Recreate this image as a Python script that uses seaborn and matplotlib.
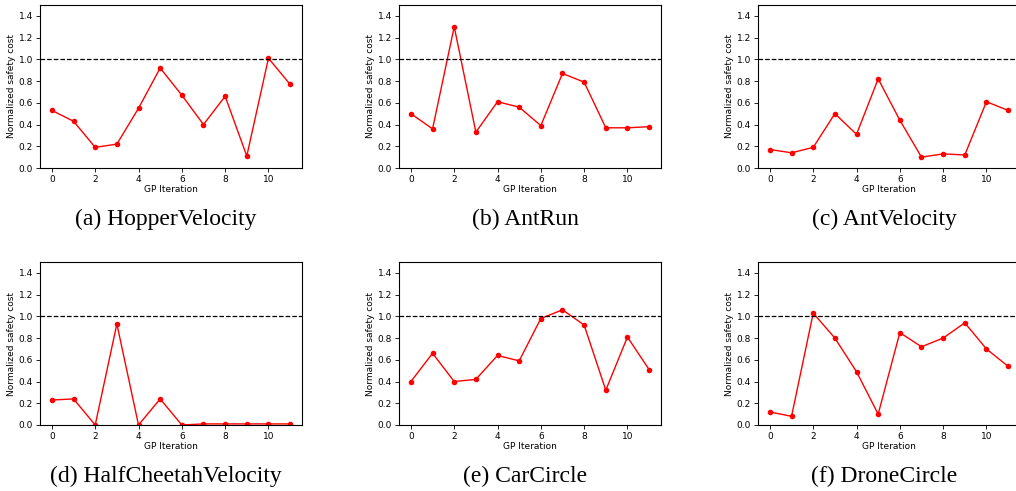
import numpy as np
import pandas as pd
import matplotlib
matplotlib.use("Agg")
import matplotlib.pyplot as plt
import seaborn as sns

iterations = list(range(12))
hopper_velocity = [0.53, 0.43, 0.19, 0.22, 0.55, 0.92, 0.67, 0.40, 0.66, 0.11, 1.01, 0.77]
ant_run = [0.50, 0.36, 1.30, 0.33, 0.61, 0.56, 0.39, 0.87, 0.79, 0.37, 0.37, 0.38]
ant_velocity = [0.17, 0.14, 0.19, 0.50, 0.31, 0.82, 0.44, 0.10, 0.13, 0.12, 0.61, 0.53]
half_cheetah_velocity = [0.23, 0.24, 0.0, 0.93, 0.0, 0.24, 0.0, 0.01, 0.01, 0.01, 0.01, 0.01]
car_circle = [0.40, 0.66, 0.40, 0.42, 0.64, 0.59, 0.98, 1.06, 0.92, 0.32, 0.81, 0.51]
drone_circle = [0.12, 0.08, 1.03, 0.80, 0.49, 0.10, 0.85, 0.72, 0.80, 0.94, 0.70, 0.54]

captions = ["(a) HopperVelocity", "(b) AntRun", "(c) AntVelocity",
            "(d) HalfCheetahVelocity", "(e) CarCircle", "(f) DroneCircle"]
series = [hopper_velocity, ant_run, ant_velocity, half_cheetah_velocity, car_circle, drone_circle]

sns.set_style("ticks")
plt.rcParams['font.family'] = ['DejaVu Sans']
plt.rcParams['text.color'] = 'black'
plt.rcParams['axes.labelcolor'] = 'black'
plt.rcParams['xtick.color'] = 'black'
plt.rcParams['ytick.color'] = 'black'

fig = plt.figure(figsize=(10.16, 4.91), dpi=100)
W, H = 1016, 491
lefts = [40, 399, 758]
tops = [5, 262]
aw, ah = 262, 163
cap_y = [219, 476]

for i, (cap, vals) in enumerate(zip(captions, series)):
    r, c = divmod(i, 3)
    ax = fig.add_axes([lefts[c] / W, 1 - (tops[r] + ah) / H, aw / W, ah / H])
    df = pd.DataFrame({"GP Iteration": iterations, "cost": vals})
    sns.lineplot(data=df, x="GP Iteration", y="cost", ax=ax, color="red",
                 marker="o", markersize=4, markeredgewidth=0, linewidth=1)
    ax.axhline(1.0, color="black", linestyle="--", linewidth=0.9)
    ax.set_ylim(0, 1.5)
    ax.set_xlim(-0.55, 11.55)
    ax.set_xticks([0, 2, 4, 6, 8, 10])
    ax.set_yticks([0.0, 0.2, 0.4, 0.6, 0.8, 1.0, 1.2, 1.4])
    ax.tick_params(labelsize=6.5, length=3, width=0.6, pad=2)
    ax.set_xlabel("GP Iteration", fontsize=6.5, labelpad=1)
    ax.set_ylabel("Normalized safety cost", fontsize=6.5, labelpad=2)
    for s in ax.spines.values():
        s.set_linewidth(0.8)
        s.set_color("black")
    fig.text((lefts[c] + aw / 2 - 5) / W, 1 - cap_y[r] / H, cap, color="black",
             ha="center", va="center", fontsize=17, family="Liberation Serif")

fig.savefig("out.png", dpi=100)
